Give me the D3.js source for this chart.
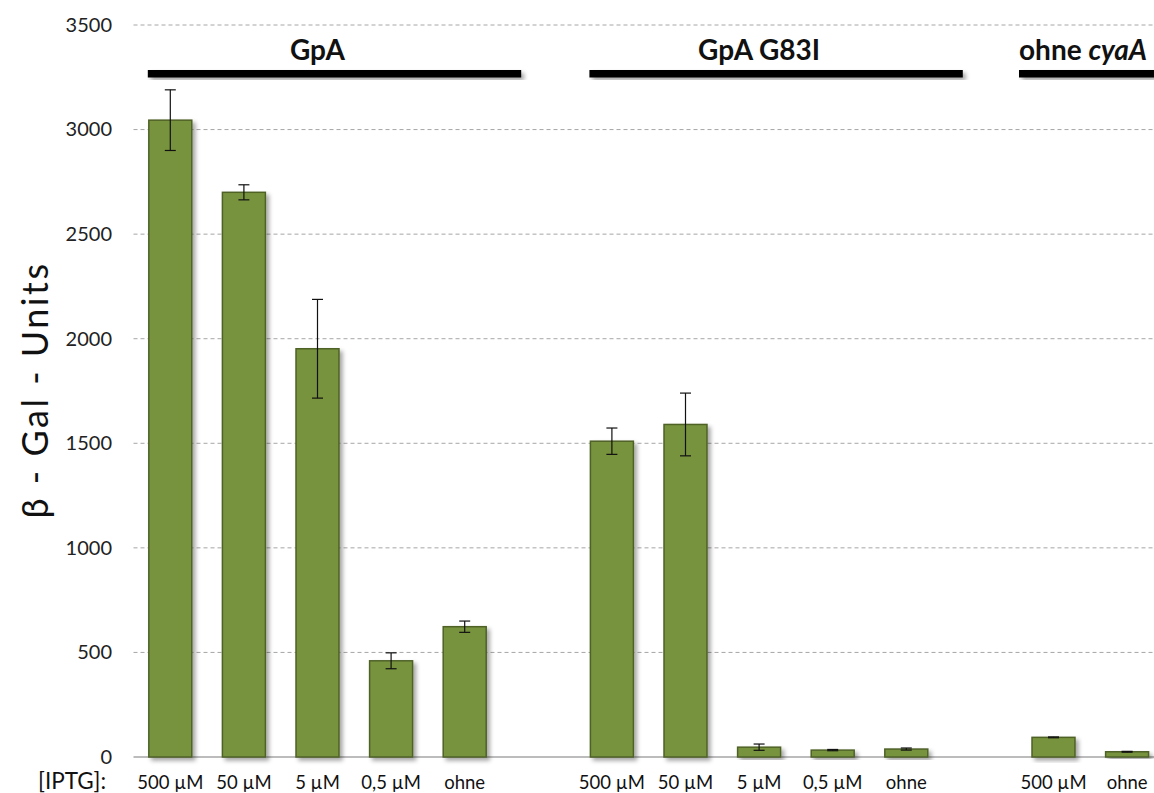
<!DOCTYPE html>
<html>
<head>
<meta charset="utf-8">
<script src="https://cdn.jsdelivr.net/npm/d3@7"></script>
<style>
  html, body { margin: 0; padding: 0; background: #fff; }
  svg { display: block; font-family: Lato, "Open Sans", "Liberation Sans", sans-serif; }
</style>
</head>
<body>
<svg id="chart" width="1154" height="793"></svg>
<script>
// β-Galactosidase activity per construct and IPTG concentration
const groupNames = ["GpA", "GpA G83I", "ohne cyaA"];
const iptgLabels = ["500 µM", "50 µM", "5 µM", "0,5 µM", "ohne"];
const cyaLabels = ["500 µM", "ohne"];

const gpaValues = [3045, 2700, 1952, 460, 623];
const gpaErrors = [145, 36, 236, 38, 27];
const g83iValues = [1510, 1590, 47, 33, 38];
const g83iErrors = [63, 150, 15, 3, 5];
const cyaValues = [94, 25];
const cyaErrors = [2, 2];

const yTicks = [0, 500, 1000, 1500, 2000, 2500, 3000, 3500];

// Assemble one row per bar, with an empty slot between groups
const groupDefs = [
  { name: groupNames[0], labels: iptgLabels, values: gpaValues, errors: gpaErrors },
  { name: groupNames[1], labels: iptgLabels, values: g83iValues, errors: g83iErrors },
  { name: groupNames[2], labels: cyaLabels, values: cyaValues, errors: cyaErrors }
];
const slots = [];
const rows = [];
groupDefs.forEach((g, gi) => {
  if (gi > 0) slots.push("gap" + gi);
  g.labels.forEach((lab, i) => {
    const key = gi + "|" + lab;
    slots.push(key);
    rows.push({ key, group: gi, label: lab, value: g.values[i], err: g.errors[i] });
  });
});

const svg = d3.select("#chart");
const W = 1154, H = 793;
const plotLeft = 133.5, step = 73.6;

const x = d3.scaleBand()
  .domain(slots)
  .range([plotLeft, plotLeft + step * slots.length])
  .paddingInner(0.416)
  .paddingOuter(0.208);

const y = d3.scaleLinear().domain([0, 3500]).range([757, 25]);

// Shadow filter for bars and group brackets
const defs = svg.append("defs");
const f = defs.append("filter").attr("id", "shadow")
  .attr("x", "-20%").attr("y", "-20%").attr("width", "150%").attr("height", "150%");
f.append("feDropShadow").attr("dx", 3).attr("dy", 3).attr("stdDeviation", 2)
  .attr("flood-color", "#000").attr("flood-opacity", 0.35);

// Gridlines
svg.append("g").selectAll("line")
  .data(yTicks.filter(d => d > 0))
  .join("line")
  .attr("x1", plotLeft).attr("x2", W)
  .attr("y1", d => y(d)).attr("y2", d => y(d))
  .attr("stroke", "#a6a6a6").attr("stroke-width", 1)
  .attr("stroke-dasharray", "4,3");

// Y axis tick labels
const yAxis = d3.axisLeft(y).tickValues(yTicks).tickFormat(d3.format("d")).tickSize(0).tickPadding(0);
const yg = svg.append("g").attr("transform", `translate(112,0)`).call(yAxis);
yg.select(".domain").remove();
yg.selectAll("text")
  .attr("font-size", 20).attr("fill", "#222")
  .attr("font-family", 'Lato, "Open Sans", sans-serif');

// Baseline
svg.append("line")
  .attr("x1", plotLeft).attr("x2", W)
  .attr("y1", y(0)).attr("y2", y(0))
  .attr("stroke", "#a6a6a6").attr("stroke-width", 1.5);

// Bars
svg.append("g").selectAll("rect")
  .data(rows)
  .join("rect")
  .attr("x", d => x(d.key))
  .attr("y", d => y(d.value))
  .attr("width", x.bandwidth())
  .attr("height", d => y(0) - y(d.value))
  .attr("fill", "#77933c")
  .attr("stroke", "#4f6228")
  .attr("stroke-width", 1.5)
  .attr("filter", "url(#shadow)");

// Error bars
const eb = svg.append("g").attr("stroke", "#111").attr("stroke-width", 1.2);
rows.forEach(d => {
  const cx = x(d.key) + x.bandwidth() / 2;
  const top = y(d.value + d.err), bot = y(d.value - d.err);
  eb.append("line").attr("x1", cx).attr("x2", cx).attr("y1", top).attr("y2", bot);
  eb.append("line").attr("x1", cx - 5.5).attr("x2", cx + 5.5).attr("y1", top).attr("y2", top);
  eb.append("line").attr("x1", cx - 5.5).attr("x2", cx + 5.5).attr("y1", bot).attr("y2", bot);
});

// Category labels
svg.append("g").selectAll("text")
  .data(rows)
  .join("text")
  .attr("x", d => x(d.key) + x.bandwidth() / 2)
  .attr("y", 789)
  .attr("text-anchor", "middle")
  .attr("font-size", 18.5)
  .attr("fill", "#111")
  .text(d => d.label);

svg.append("text")
  .attr("x", 38).attr("y", 789)
  .attr("font-size", 22.5).attr("fill", "#111")
  .text("[IPTG]:");

// Y axis title
svg.append("text")
  .attr("transform", "translate(48,390) rotate(-90)")
  .attr("text-anchor", "middle")
  .attr("font-size", 36).attr("letter-spacing", 2.5).attr("fill", "#111")
  .text("β - Gal - Units");

// Group brackets and names
groupDefs.forEach((g, gi) => {
  const keys = rows.filter(r => r.group === gi).map(r => r.key);
  const first = x(keys[0]);
  const last = x(keys[keys.length - 1]) + x.bandwidth();
  const open = gi === 2; // last group runs past the right edge
  const x0 = open ? first - 13 : first - 1;
  const x1 = open ? last + 120 : last + 35;
  svg.append("rect")
    .attr("x", x0).attr("y", 70)
    .attr("width", x1 - x0).attr("height", 7.5)
    .attr("fill", "#000")
    .attr("filter", "url(#shadow)");
  const t = svg.append("text")
    .attr("x", open ? x0 : (first + last) / 2).attr("y", 60)
    .attr("text-anchor", open ? "start" : "middle")
    .attr("font-size", 28).attr("font-weight", "bold").attr("fill", "#111");
  if (g.name === "ohne cyaA") {
    t.append("tspan").text("ohne ");
    t.append("tspan").attr("font-style", "italic").text("cyaA");
  } else {
    t.text(g.name);
  }
});
</script>
</body>
</html>
